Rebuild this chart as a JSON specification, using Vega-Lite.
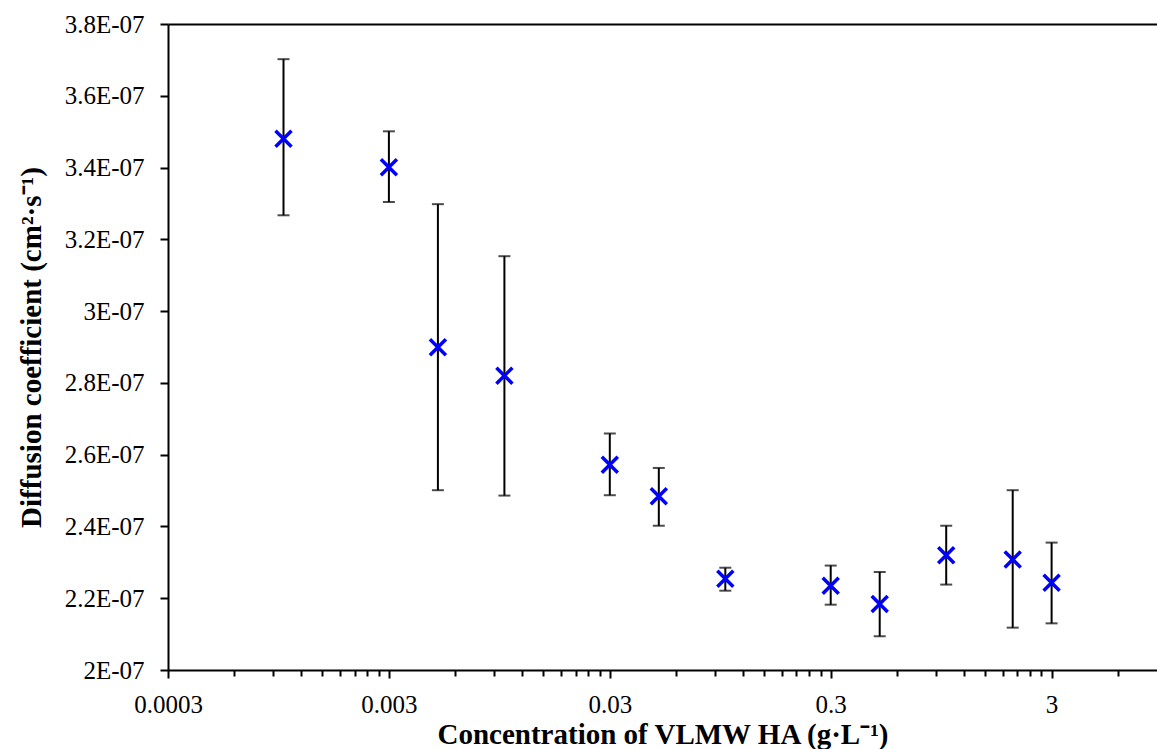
{
  "$schema": "https://vega.github.io/schema/vega-lite/v6.json",
  "autosize": {"type": "none"},
  "padding": {"left": 168, "top": 24, "right": 0, "bottom": 79},
  "width": 989,
  "height": 646,
  "background": "white",
  "config": {
    "view": {"stroke": null},
    "axis": {
      "labelFont": "Liberation Serif, Times New Roman, serif",
      "labelFontSize": 25,
      "labelColor": "black",
      "titleFont": "Liberation Serif, Times New Roman, serif",
      "titleFontSize": 29,
      "titleFontWeight": "bold",
      "titleColor": "black",
      "domainColor": "black",
      "domainWidth": 2,
      "tickColor": "black",
      "tickWidth": 2,
      "grid": false
    }
  },
  "data": {
    "values": [
      {"conc": 0.001, "D": 3.480e-7, "lo": 3.267e-7, "hi": 3.702e-7},
      {"conc": 0.003, "D": 3.401e-7, "lo": 3.304e-7, "hi": 3.501e-7},
      {"conc": 0.005, "D": 2.899e-7, "lo": 2.501e-7, "hi": 3.298e-7},
      {"conc": 0.01, "D": 2.820e-7, "lo": 2.486e-7, "hi": 3.153e-7},
      {"conc": 0.03, "D": 2.572e-7, "lo": 2.487e-7, "hi": 2.659e-7},
      {"conc": 0.05, "D": 2.484e-7, "lo": 2.402e-7, "hi": 2.563e-7},
      {"conc": 0.1, "D": 2.254e-7, "lo": 2.221e-7, "hi": 2.285e-7},
      {"conc": 0.3, "D": 2.235e-7, "lo": 2.182e-7, "hi": 2.291e-7},
      {"conc": 0.5, "D": 2.184e-7, "lo": 2.094e-7, "hi": 2.273e-7},
      {"conc": 1, "D": 2.320e-7, "lo": 2.238e-7, "hi": 2.402e-7},
      {"conc": 2, "D": 2.308e-7, "lo": 2.118e-7, "hi": 2.501e-7},
      {"conc": 3, "D": 2.243e-7, "lo": 2.130e-7, "hi": 2.355e-7}
    ]
  },
  "resolve": {"axis": {"x": "independent"}},
  "layer": [
    {
      "mark": {"type": "rule", "color": "black", "strokeWidth": 2},
      "encoding": {
        "x": {
          "field": "conc", "type": "quantitative",
          "scale": {"type": "log", "domain": [0.0003, 9], "nice": false},
          "axis": {
            "orient": "bottom",
            "title": "Concentration of VLMW HA (g·L⁻¹)",
            "values": [0.0003, 0.0006, 0.0009, 0.0012, 0.0015, 0.0018, 0.0021, 0.0024, 0.0027,
                       0.003, 0.006, 0.009, 0.012, 0.015, 0.018, 0.021, 0.024, 0.027,
                       0.03, 0.06, 0.09, 0.12, 0.15, 0.18, 0.21, 0.24, 0.27,
                       0.3, 0.6, 0.9, 1.2, 1.5, 1.8, 2.1, 2.4, 2.7,
                       3, 6],
            "labelExpr": "(datum.value == 0.0003 || datum.value == 0.003 || datum.value == 0.03 || datum.value == 0.3 || datum.value == 3) ? format(datum.value, '~g') : ''",
            "tickSize": {"condition": {"test": "datum.value == 0.0003 || datum.value == 0.003 || datum.value == 0.03 || datum.value == 0.3 || datum.value == 3", "value": 8}, "value": 6},
            "labelPadding": 14,
            "labelFlush": false,
            "labelOverlap": false,
            "titlePadding": 3
          }
        },
        "y": {
          "field": "lo", "type": "quantitative",
          "scale": {"domain": [2e-7, 3.8e-7], "nice": false, "zero": false},
          "axis": {
            "title": "Diffusion coefficient (cm²·s⁻¹)",
            "values": [2e-7, 2.2e-7, 2.4e-7, 2.6e-7, 2.8e-7, 3e-7, 3.2e-7, 3.4e-7, 3.6e-7, 3.8e-7],
            "labelExpr": "format(datum.value * 1e7, '.1~f') + 'E-07'",
            "tickSize": 8,
            "labelPadding": 16,
            "titlePadding": 18
          }
        },
        "y2": {"field": "hi"}
      }
    },
    {
      "mark": {"type": "tick", "color": "black", "orient": "horizontal", "size": 12, "thickness": 2},
      "encoding": {
        "x": {"field": "conc", "type": "quantitative", "axis": null},
        "y": {"field": "lo", "type": "quantitative"}
      }
    },
    {
      "mark": {"type": "tick", "color": "black", "orient": "horizontal", "size": 12, "thickness": 2},
      "encoding": {
        "x": {"field": "conc", "type": "quantitative", "axis": null},
        "y": {"field": "hi", "type": "quantitative"}
      }
    },
    {
      "mark": {"type": "point", "shape": "M-1,-1L1,1M-1,1L1,-1", "filled": false, "color": "#0000FF", "strokeWidth": 3.5, "size": 256, "opacity": 1},
      "encoding": {
        "x": {
          "field": "conc", "type": "quantitative",
          "axis": {"orient": "top", "title": null, "labels": false, "ticks": false, "domain": true}
        },
        "y": {"field": "D", "type": "quantitative"}
      }
    }
  ]
}
